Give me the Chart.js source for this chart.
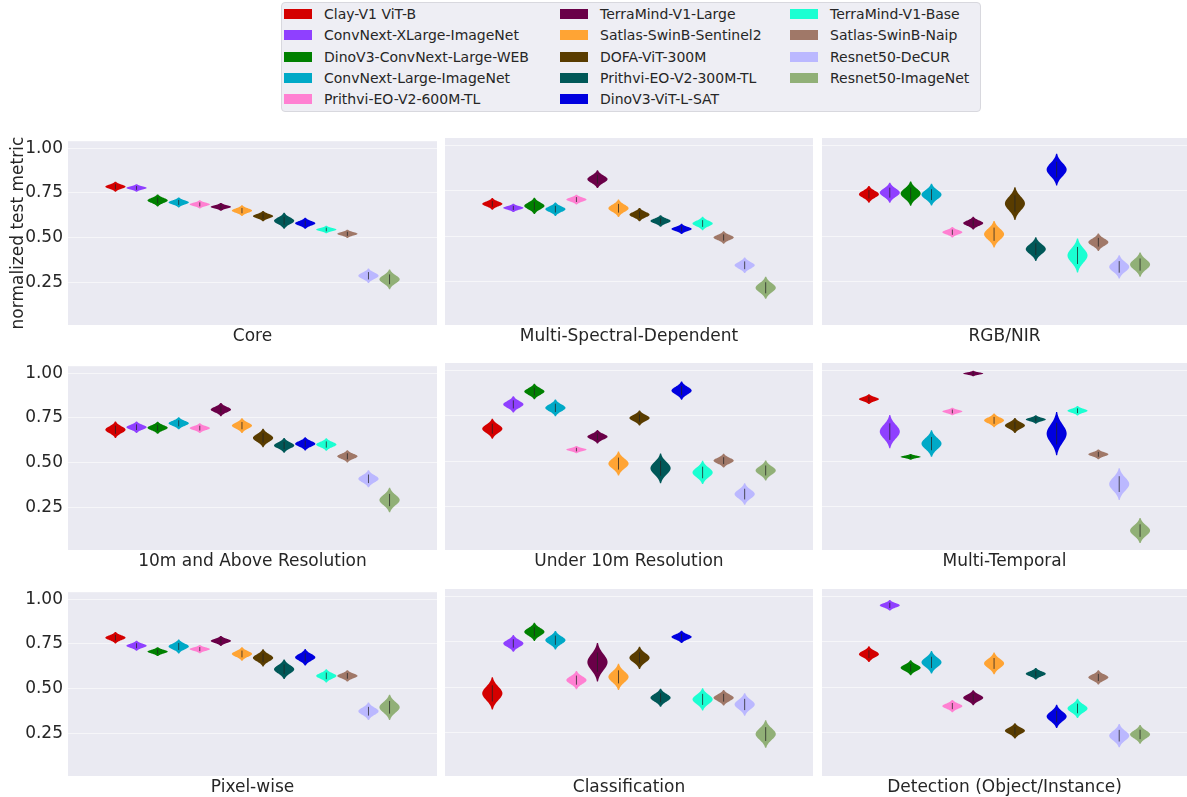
<!DOCTYPE html>
<html>
<head>
<meta charset="utf-8">
<script src="https://cdn.jsdelivr.net/npm/chart.js@4.4.1/dist/chart.umd.min.js"></script>
<style>
  html, body { margin: 0; padding: 0; background: #ffffff; }
  #fig { position: relative; width: 1187px; height: 797px; overflow: hidden; font-family: 'DejaVu Sans', sans-serif; }
  #fig canvas { position: absolute; }
  .legend { position: absolute; left: 281px; top: 2px; width: 700px; height: 110px; background: #eeeef4;
            border: 1px solid #d8d8de; border-radius: 4px; box-sizing: border-box; }
  .item { position: absolute; height: 16px; font-size: 14px; line-height: 16px; color: #262626; white-space: nowrap; }
  .item .sw { position: absolute; left: 0; top: 3px; width: 28px; height: 10px; }
  .item .tx { position: absolute; left: 40px; top: 0; }
</style>
</head>
<body>
<div id="fig"><div class="legend" id="legend"></div></div>
<script>
// ---- models and colours ----
const models = [
  'Clay-V1 ViT-B', 'ConvNext-XLarge-ImageNet', 'DinoV3-ConvNext-Large-WEB', 'ConvNext-Large-ImageNet',
  'Prithvi-EO-V2-600M-TL', 'TerraMind-V1-Large', 'Satlas-SwinB-Sentinel2', 'DOFA-ViT-300M',
  'Prithvi-EO-V2-300M-TL', 'DinoV3-ViT-L-SAT', 'TerraMind-V1-Base', 'Satlas-SwinB-Naip',
  'Resnet50-DeCUR', 'Resnet50-ImageNet'
];
const colors = [
  '#d40000', '#8f40ff', '#008000', '#00a9c7',
  '#ff80d2', '#6a0048', '#ffa434', '#593c00',
  '#005858', '#0000df', '#1affd2', '#a07868',
  '#bbb8ff', '#91b077'
];

// ---- panels ----
const panelTitles = [
  'Core', 'Multi-Spectral-Dependent', 'RGB/NIR',
  '10m and Above Resolution', 'Under 10m Resolution', 'Multi-Temporal',
  'Pixel-wise', 'Classification', 'Detection (Object/Instance)'
];

// centre of each model's distribution (normalized test metric)
const core          = [0.785, 0.778, 0.708, 0.697, 0.686, 0.672, 0.651, 0.620, 0.594, 0.580, 0.545, 0.521, 0.286, 0.266];
const multiSpectral = [0.677, 0.655, 0.666, 0.648, 0.701, 0.813, 0.653, 0.618, 0.583, 0.539, 0.569, 0.492, 0.339, 0.215];
const rgbNir        = [0.730, 0.739, 0.734, 0.728, 0.521, 0.571, 0.510, 0.679, 0.428, 0.866, 0.393, 0.466, 0.330, 0.343];
const res10mAbove   = [0.684, 0.698, 0.695, 0.720, 0.693, 0.797, 0.707, 0.638, 0.596, 0.605, 0.601, 0.535, 0.409, 0.290];
const resUnder10m   = [0.678, 0.812, 0.883, 0.793, 0.563, 0.634, 0.486, 0.737, 0.460, 0.888, 0.437, 0.502, 0.318, 0.448];
const multiTemporal = [0.841, 0.662, 0.523, 0.596, 0.773, 0.982, 0.724, 0.696, 0.729, 0.651, 0.777, 0.537, 0.373, 0.117];
const pixelWise     = [0.785, 0.740, 0.707, 0.736, 0.721, 0.767, 0.694, 0.672, 0.608, 0.675, 0.571, 0.571, 0.373, 0.395];
const classification= [0.465, 0.740, 0.804, 0.758, 0.538, 0.637, 0.556, 0.661, 0.441, 0.776, 0.432, 0.441, 0.404, 0.241];
const detection     = [0.681, 0.950, 0.606, 0.636, 0.395, 0.441, 0.630, 0.259, 0.573, 0.338, 0.382, 0.553, 0.232, 0.239];

// half extent of each violin (same units)
const coreSpread          = [0.028, 0.021, 0.034, 0.028, 0.023, 0.022, 0.030, 0.029, 0.045, 0.031, 0.021, 0.023, 0.041, 0.055];
const multiSpectralSpread = [0.032, 0.023, 0.045, 0.037, 0.027, 0.049, 0.048, 0.037, 0.032, 0.028, 0.037, 0.034, 0.043, 0.061];
const rgbNirSpread        = [0.046, 0.055, 0.067, 0.060, 0.029, 0.035, 0.073, 0.090, 0.065, 0.087, 0.094, 0.048, 0.064, 0.067];
const res10mAboveSpread   = [0.046, 0.032, 0.034, 0.034, 0.027, 0.037, 0.041, 0.052, 0.041, 0.037, 0.035, 0.034, 0.048, 0.069];
const resUnder10mSpread   = [0.055, 0.045, 0.043, 0.046, 0.020, 0.037, 0.066, 0.041, 0.082, 0.050, 0.064, 0.038, 0.059, 0.055];
const multiTemporalSpread = [0.027, 0.091, 0.016, 0.073, 0.021, 0.015, 0.038, 0.041, 0.023, 0.119, 0.026, 0.027, 0.087, 0.069];
const pixelWiseSpread     = [0.032, 0.028, 0.025, 0.039, 0.023, 0.028, 0.038, 0.048, 0.055, 0.046, 0.037, 0.032, 0.049, 0.071];
const classificationSpread= [0.089, 0.046, 0.050, 0.051, 0.050, 0.106, 0.072, 0.061, 0.050, 0.034, 0.061, 0.043, 0.062, 0.076];
const detectionSpread     = [0.043, 0.029, 0.041, 0.062, 0.034, 0.041, 0.060, 0.042, 0.032, 0.064, 0.053, 0.039, 0.064, 0.052];

const yTicks = [0.25, 0.50, 0.75, 1.00];

const panelValues  = [core, multiSpectral, rgbNir, res10mAbove, resUnder10m, multiTemporal, pixelWise, classification, detection];
const panelSpreads = [coreSpread, multiSpectralSpread, rgbNirSpread, res10mAboveSpread, resUnder10mSpread,
                      multiTemporalSpread, pixelWiseSpread, classificationSpread, detectionSpread];

// ---- layout of the 3x3 grid (plot-area boxes) ----
const colLeft = [68, 445, 822];
const colWidth = [369, 368, 365];
const rowTop = [138, 363, 589];
const plotHeight = 187;
const yAxisWidth = 68;
const topPad = 12;
const xAxisHeight = 30;

const TEXT = '#262626';
Chart.defaults.font.family = "'DejaVu Sans', sans-serif";
Chart.defaults.color = TEXT;

// hue-dodged slots inside the single category spanning [-0.5, 0.5]
const slot = 0.8 / models.length;
const xPos = models.map((_, i) => -0.4 + (i + 0.5) * slot);
const halfWidth = slot * 0.48;

// ---- legend ----
const legend = document.getElementById('legend');
const legendCols = [2, 278, 508];
models.forEach((m, i) => {
  const col = Math.floor(i / 5), row = i % 5;
  const it = document.createElement('div');
  it.className = 'item';
  it.style.left = legendCols[col] + 'px';
  it.style.top = (11.3 + row * 21.1 - 8) + 'px';
  it.innerHTML = '<span class="sw" style="background:' + colors[i] + '"></span><span class="tx"></span>';
  it.querySelector('.tx').textContent = m;
  legend.appendChild(it);
});

// ---- violin drawing through the chart scales ----
const violinPlugin = {
  id: 'violins',
  beforeDraw(chart) {
    const { ctx, chartArea: a } = chart;
    ctx.save();
    ctx.fillStyle = '#eaeaf2';
    ctx.fillRect(a.left, a.top, a.right - a.left, a.bottom - a.top);
    ctx.restore();
  },
  afterDatasetsDraw(chart) {
    const { ctx, chartArea: a } = chart;
    const xs = chart.scales.x, ys = chart.scales.y;
    ctx.save();
    ctx.beginPath();
    ctx.rect(a.left, a.top, a.right - a.left, a.bottom - a.top);
    ctx.clip();
    chart.data.datasets.forEach(ds => {
      const p = ds.data[0];
      const h = ds.spread;
      const sigma = h / 2.4;
      const cx = xs.getPixelForValue(p.x);
      const hw = xs.getPixelForValue(p.x + ds.halfWidth) - cx;
      const n = 60;
      const prof = [];
      for (let k = 0; k <= n; k++) {
        const v = p.y + h - (2 * h * k) / n;
        const t = (v - p.y) / sigma;
        prof.push([ys.getPixelForValue(v), hw * Math.exp(-0.5 * t * t)]);
      }
      ctx.beginPath();
      prof.forEach(([py, w], k) => (k ? ctx.lineTo(cx + w, py) : ctx.moveTo(cx + w, py)));
      for (let k = prof.length - 1; k >= 0; k--) ctx.lineTo(cx - prof[k][1], prof[k][0]);
      ctx.closePath();
      ctx.fillStyle = ds.backgroundColor;
      ctx.fill();
      // inner stick
      ctx.beginPath();
      ctx.moveTo(cx, ys.getPixelForValue(p.y + h * 0.5));
      ctx.lineTo(cx, ys.getPixelForValue(p.y - h * 0.5));
      ctx.strokeStyle = 'rgba(35,35,35,0.75)';
      ctx.lineWidth = 1;
      ctx.stroke();
    });
    ctx.restore();
  }
};

const fig = document.getElementById('fig');
panelTitles.forEach((title, idx) => {
  const r = Math.floor(idx / 3), c = idx % 3;
  const leftAxis = c === 0;
  const cv = document.createElement('canvas');
  const w = colWidth[c] + (leftAxis ? yAxisWidth : 0);
  const hgt = topPad + plotHeight + xAxisHeight;
  cv.width = w; cv.height = hgt;
  cv.style.width = w + 'px'; cv.style.height = hgt + 'px';
  cv.style.left = (leftAxis ? colLeft[c] - yAxisWidth : colLeft[c]) + 'px';
  cv.style.top = (rowTop[r] - topPad) + 'px';
  fig.appendChild(cv);

  const values = panelValues[idx], spreads = panelSpreads[idx];
  new Chart(cv, {
    type: 'scatter',
    data: {
      datasets: models.map((m, i) => ({
        label: m,
        data: [{ x: xPos[i], y: values[i] }],
        spread: spreads[i],
        halfWidth: halfWidth,
        backgroundColor: colors[i],
        pointRadius: 0,
        pointHoverRadius: 0
      }))
    },
    options: {
      responsive: false,
      animation: false,
      devicePixelRatio: 1,
      layout: { padding: { top: topPad, left: 0, right: 0, bottom: 0 } },
      plugins: { legend: { display: false }, tooltip: { enabled: false } },
      events: [],
      scales: {
        x: {
          type: 'linear', min: -0.5, max: 0.5,
          grid: { display: false, drawTicks: false },
          border: { display: false },
          ticks: { display: false },
          title: { display: true, text: title, font: { size: 17 }, color: TEXT, padding: { top: 0, bottom: 8 } },
          afterFit(s) { s.height = xAxisHeight; }
        },
        y: {
          type: 'linear', min: 0.01, max: 1.04,
          afterBuildTicks(s) { s.ticks = yTicks.map(v => ({ value: v })); },
          grid: { color: '#f6f6f9', lineWidth: 1, drawTicks: false },
          border: { display: false },
          ticks: { display: leftAxis, padding: 5, font: { size: 17 }, color: TEXT, callback: v => Number(v).toFixed(2) },
          title: { display: idx === 0, text: 'normalized test metric', font: { size: 17 }, color: TEXT, padding: { top: 8, bottom: 0 } },
          afterFit(s) { s.width = leftAxis ? yAxisWidth : 0; }
        }
      }
    },
    plugins: [violinPlugin]
  });
});
</script>
</body>
</html>
